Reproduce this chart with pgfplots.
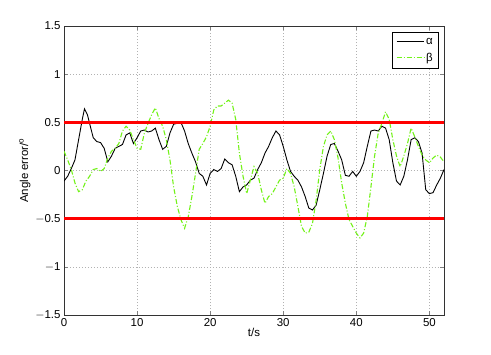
\documentclass[border=0pt]{standalone}
\usepackage{fontspec}
\setmainfont{Liberation Sans}
\usepackage{pgfplots}
\pgfplotsset{compat=1.18}
\definecolor{betagreen}{rgb}{0.45,0.95,0.1}
\begin{document}
\begin{tikzpicture}[x=1bp,y=1bp]
\useasboundingbox (0,0) rectangle (491,354);
\begin{axis}[
    at={(64bp,39bp)}, anchor=south west,
    scale only axis, width=380bp, height=289bp,
    xmin=0, xmax=52, ymin=-1.5, ymax=1.5,
    xtick={0,10,...,50}, ytick={-1.5,-1,...,1.5},
    yticklabels={$-$1.5,$-$1,$-$0.5,0,0.5,1,1.5},
    tick align=inside, tick pos=both,
    major tick length=4bp,
    grid=major, grid style={dash pattern=on 0.6pt off 2.4pt, gray!60, line width=0.6pt},
    axis line style={black!80, line width=0.6pt},
    /pgf/number format/assume math mode=true,
    tick label style={font=\fontsize{11.5}{13}\selectfont},
    label style={font=\fontsize{11.5}{13}\selectfont},
    xlabel={t/s}, ylabel={Angle error/\textsuperscript{o}},
    xlabel style={yshift=5bp}, ylabel style={yshift=-2bp},
    legend style={at={(0.987,0.98)}, anchor=north east, draw=black, line width=0.7pt,
        font=\fontsize{11.5}{13}\selectfont, cells={anchor=west}, row sep=3pt,
        inner xsep=4pt, inner ysep=4pt},
    legend cell align=left,
    legend image code/.code={\draw[#1] (0cm,0cm) -- (0.95cm,0cm);},
]
\addplot[black, line width=0.9pt] coordinates {
(0,-0.11)(0.5,-0.06)(1,0.02)(1.5,0.11)(2,0.32)(2.5,0.53)(2.8,0.64)(3.2,0.58)(3.5,0.49)
(4,0.34)(4.5,0.30)(5,0.29)(5.5,0.23)(6,0.09)(6.5,0.15)(7,0.23)(7.5,0.25)(8,0.27)
(8.5,0.37)(9,0.39)(9.5,0.28)(10,0.34)(10.5,0.41)(11,0.42)(11.5,0.40)(12,0.41)(12.5,0.44)
(13,0.32)(13.5,0.22)(14,0.25)(14.5,0.39)(15,0.48)(15.5,0.49)(16,0.50)(16.5,0.41)
(17,0.28)(17.5,0.18)(18,0.09)(18.5,-0.03)(19,-0.06)(19.5,-0.15)(20,-0.03)(20.5,0.01)
(21,-0.01)(21.5,0.02)(22,0.12)(22.5,0.08)(23,0.06)(23.5,-0.06)(24,-0.22)(24.5,-0.17)
(25,-0.15)(25.5,-0.10)(26,-0.08)(26.5,0.01)(27,0.08)(27.5,0.18)(28,0.25)(28.5,0.34)
(29,0.41)(29.5,0.37)(30,0.25)(30.5,0.11)(31,-0.01)(31.5,-0.06)(32,-0.10)(32.5,-0.17)
(33,-0.27)(33.5,-0.39)(34,-0.41)(34.5,-0.36)(35,-0.20)(35.5,-0.03)(36,0.15)(36.5,0.27)
(37,0.28)(37.5,0.20)(38,0.11)(38.5,-0.05)(39,-0.06)(39.5,-0.01)(40,-0.06)(40.5,-0.01)
(41,0.08)(41.5,0.25)(42,0.41)(42.5,0.42)(43,0.41)(43.5,0.46)(44,0.44)(44.5,0.32)
(45,0.08)(45.5,-0.11)(46,-0.15)(46.5,-0.06)(47,0.11)(47.5,0.32)(48,0.34)(48.5,0.30)
(49,0.18)(49.5,-0.20)(50,-0.24)(50.5,-0.23)(51,-0.15)(51.5,-0.08)(52,0.01)
};
\addlegendentry{α}
\addplot[betagreen, line width=1.1pt, dash pattern=on 5pt off 2pt on 1pt off 2pt] coordinates {
(0,0.20)(0.5,0.11)(1,0.01)(1.5,-0.13)(2,-0.22)(2.5,-0.20)(3,-0.11)(3.5,-0.06)(4,0.01)
(4.5,0.02)(5,-0.01)(5.5,0.02)(6,0.13)(6.5,0.20)(7,0.23)(7.5,0.28)(8,0.41)(8.5,0.46)
(9,0.42)(9.5,0.32)(10,0.23)(10.5,0.22)(11,0.39)(11.5,0.49)(12,0.58)(12.5,0.65)(13,0.54)
(13.5,0.46)(14,0.32)(14.5,0.11)(15,-0.17)(15.5,-0.37)(16,-0.51)(16.5,-0.60)(17,-0.48)
(17.5,-0.27)(18,-0.03)(18.5,0.22)(19,0.28)(19.5,0.35)(20,0.46)(20.5,0.63)(21,0.67)
(21.5,0.67)(22,0.70)(22.5,0.73)(23,0.70)(23.5,0.53)(24,0.18)(24.5,-0.06)(25,-0.24)
(25.5,-0.10)(26,0.04)(26.5,-0.03)(27,-0.20)(27.5,-0.34)(28,-0.27)(28.5,-0.24)(29,-0.17)
(29.5,-0.10)(30,-0.08)(30.5,0.02)(31,-0.03)(31.5,-0.17)(32,-0.37)(32.5,-0.58)(33,-0.65)
(33.5,-0.64)(34,-0.55)(34.5,-0.31)(35,0.01)(35.5,0.25)(36,0.37)(36.5,0.41)(37,0.32)
(37.5,0.13)(38,-0.13)(38.5,-0.34)(39,-0.51)(39.5,-0.58)(40,-0.65)(40.5,-0.70)(41,-0.65)
(41.5,-0.48)(42,-0.17)(42.5,0.15)(43,0.39)(43.5,0.49)(44,0.61)(44.5,0.53)(45,0.32)
(45.5,0.15)(46,0.04)(46.5,0.15)(47,0.28)(47.5,0.44)(48,0.35)(48.5,0.25)(49,0.16)
(49.5,0.11)(50,0.08)(50.5,0.13)(51,0.16)(51.5,0.14)(52,0.09)
};
\addlegendentry{β}
\addplot[red, line width=2.5pt, forget plot] coordinates {(0,0.5)(52,0.5)};
\addplot[red, line width=2.5pt, forget plot] coordinates {(0,-0.5)(52,-0.5)};
\end{axis}
\end{tikzpicture}
\end{document}
